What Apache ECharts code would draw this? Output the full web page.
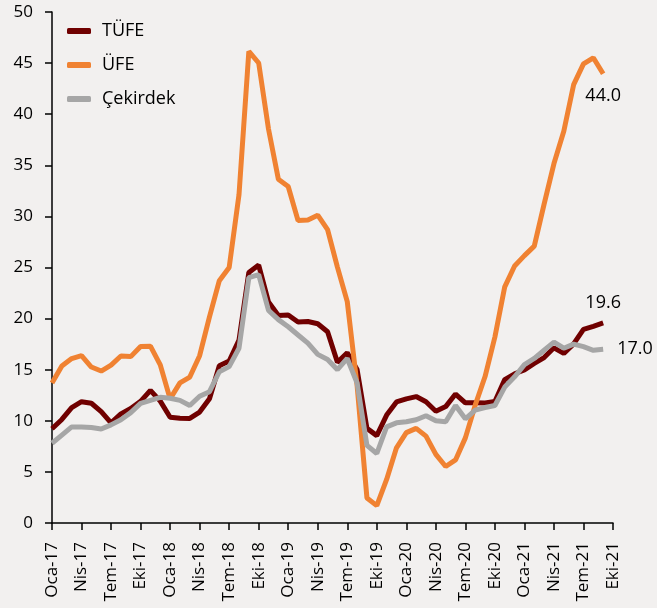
<!DOCTYPE html>
<html>
<head>
<meta charset="utf-8">
<script src="https://cdn.jsdelivr.net/npm/echarts@6/dist/echarts.min.js"></script>
<style>
html,body{margin:0;padding:0;background:#f2f0ef;}
#chart{width:657px;height:608px;}
</style>
</head>
<body>
<div id="chart"></div>
<script>
const months = ['Oca','Şub','Mar','Nis','May','Haz','Tem','Ağu','Eyl','Eki','Kas','Ara'];
const years = ['17','18','19','20','21'];
const categories = [];
years.forEach(y => months.forEach(m => categories.push(m + '-' + y)));
categories.length = 58; // Oca-17 .. Eki-21

const tufe = [
  9.22, 10.13, 11.29, 11.87, 11.72, 10.90, 9.79, 10.68, 11.20, 11.90, 12.98, 11.92,
  10.35, 10.26, 10.23, 10.85, 12.15, 15.39, 15.85, 17.90, 24.52, 25.24, 21.62, 20.30,
  20.35, 19.67, 19.71, 19.50, 18.71, 15.72, 16.65, 15.01, 9.26, 8.55, 10.56, 11.84,
  12.15, 12.37, 11.86, 10.94, 11.39, 12.62, 11.76, 11.77, 11.75, 11.89, 14.03, 14.60,
  14.97, 15.61, 16.19, 17.14, 16.59, 17.53, 18.95, 19.25, 19.58
];
const ufe = [
  13.69, 15.36, 16.09, 16.37, 15.26, 14.87, 15.45, 16.34, 16.28, 17.28, 17.30, 15.47,
  12.14, 13.71, 14.28, 16.37, 20.16, 23.71, 25.00, 32.13, 46.15, 45.01, 38.54, 33.64,
  32.93, 29.59, 29.64, 30.12, 28.71, 25.04, 21.66, 13.45, 2.45, 1.70, 4.26, 7.36,
  8.84, 9.26, 8.50, 6.71, 5.53, 6.17, 8.33, 11.53, 14.33, 18.20, 23.11, 25.15,
  26.16, 27.09, 31.20, 35.17, 38.33, 42.89, 44.92, 45.52, 43.96
];
const cekirdek = [
  7.8, 8.6, 9.4, 9.4, 9.35, 9.2, 9.6, 10.1, 10.8, 11.7, 12.0, 12.3,
  12.2, 12.0, 11.5, 12.4, 12.85, 14.8, 15.3, 17.1, 24.0, 24.3, 20.8, 19.9,
  19.2, 18.4, 17.6, 16.5, 16.0, 15.0, 16.1, 13.7, 7.6, 6.8, 9.4, 9.8,
  9.9, 10.1, 10.5, 10.0, 9.9, 11.5, 10.2, 11.05, 11.3, 11.5, 13.3, 14.3,
  15.5, 16.1, 16.9, 17.7, 17.1, 17.5, 17.25, 16.9, 17.0
];

const FONT = '"Open Sans", "Noto Sans", sans-serif';

function withEndLabel(arr, position, distance) {
  return arr.map((v, i) => {
    if (i === arr.length - 1) {
      return {
        value: v,
        symbol: 'circle',
        symbolSize: 2,
        itemStyle: {color: 'rgba(0,0,0,0)', borderWidth: 0},
        label: {
          show: true, position: position, distance: distance,
          formatter: p => Number(p.value).toFixed(1),
          fontFamily: FONT, fontSize: 18, color: '#000', opacity: 1
        }
      };
    }
    return {value: v, symbol: 'none'};
  });
}

const chart = echarts.init(document.getElementById('chart'), null, {renderer: 'canvas'});
chart.setOption({
  backgroundColor: '#f2f0ef',
  animation: false,
  grid: {left: 52, right: 44, top: 12, bottom: 85, containLabel: false},
  legend: {
    orient: 'vertical',
    left: 62,
    top: 15,
    itemWidth: 24,
    itemHeight: 6,
    itemGap: 12,
    icon: 'roundRect',
    textStyle: {fontFamily: FONT, fontSize: 18, color: '#000', lineHeight: 22, padding: [0, 0, 0, 6]},
    data: ['TÜFE', 'ÜFE', 'Çekirdek']
  },
  xAxis: {
    type: 'category',
    data: categories,
    boundaryGap: false,
    axisLine: {lineStyle: {color: '#000', width: 1.5}},
    axisTick: {show: true, interval: 2, length: 7, lineStyle: {color: '#000', width: 1.5}},
    axisLabel: {interval: 2, rotate: 90, margin: 19, fontFamily: FONT, fontSize: 17, color: '#000'},
    splitLine: {show: false}
  },
  yAxis: {
    type: 'value',
    min: 0, max: 50, interval: 5,
    axisLine: {show: true, lineStyle: {color: '#000', width: 1.5}},
    axisTick: {show: true, length: 7, lineStyle: {color: '#000', width: 1.5}},
    axisLabel: {margin: 19, fontFamily: FONT, fontSize: 17, color: '#000'},
    splitLine: {show: false}
  },
  series: [
    {
      name: 'TÜFE', type: 'line', data: withEndLabel(tufe, 'top', 10),
      showSymbol: true, showAllSymbol: true, z: 2,
      lineStyle: {color: '#700000', width: 5}, itemStyle: {color: '#700000'}
    },
    {
      name: 'ÜFE', type: 'line', data: withEndLabel(ufe, 'bottom', 12),
      showSymbol: true, showAllSymbol: true, z: 3,
      lineStyle: {color: '#f08232', width: 5}, itemStyle: {color: '#f08232'}
    },
    {
      name: 'Çekirdek', type: 'line', data: withEndLabel(cekirdek, 'right', 13),
      showSymbol: true, showAllSymbol: true, z: 4,
      lineStyle: {color: '#a6a6a6', width: 5}, itemStyle: {color: '#a6a6a6'}
    }
  ]
});
</script>
</body>
</html>
